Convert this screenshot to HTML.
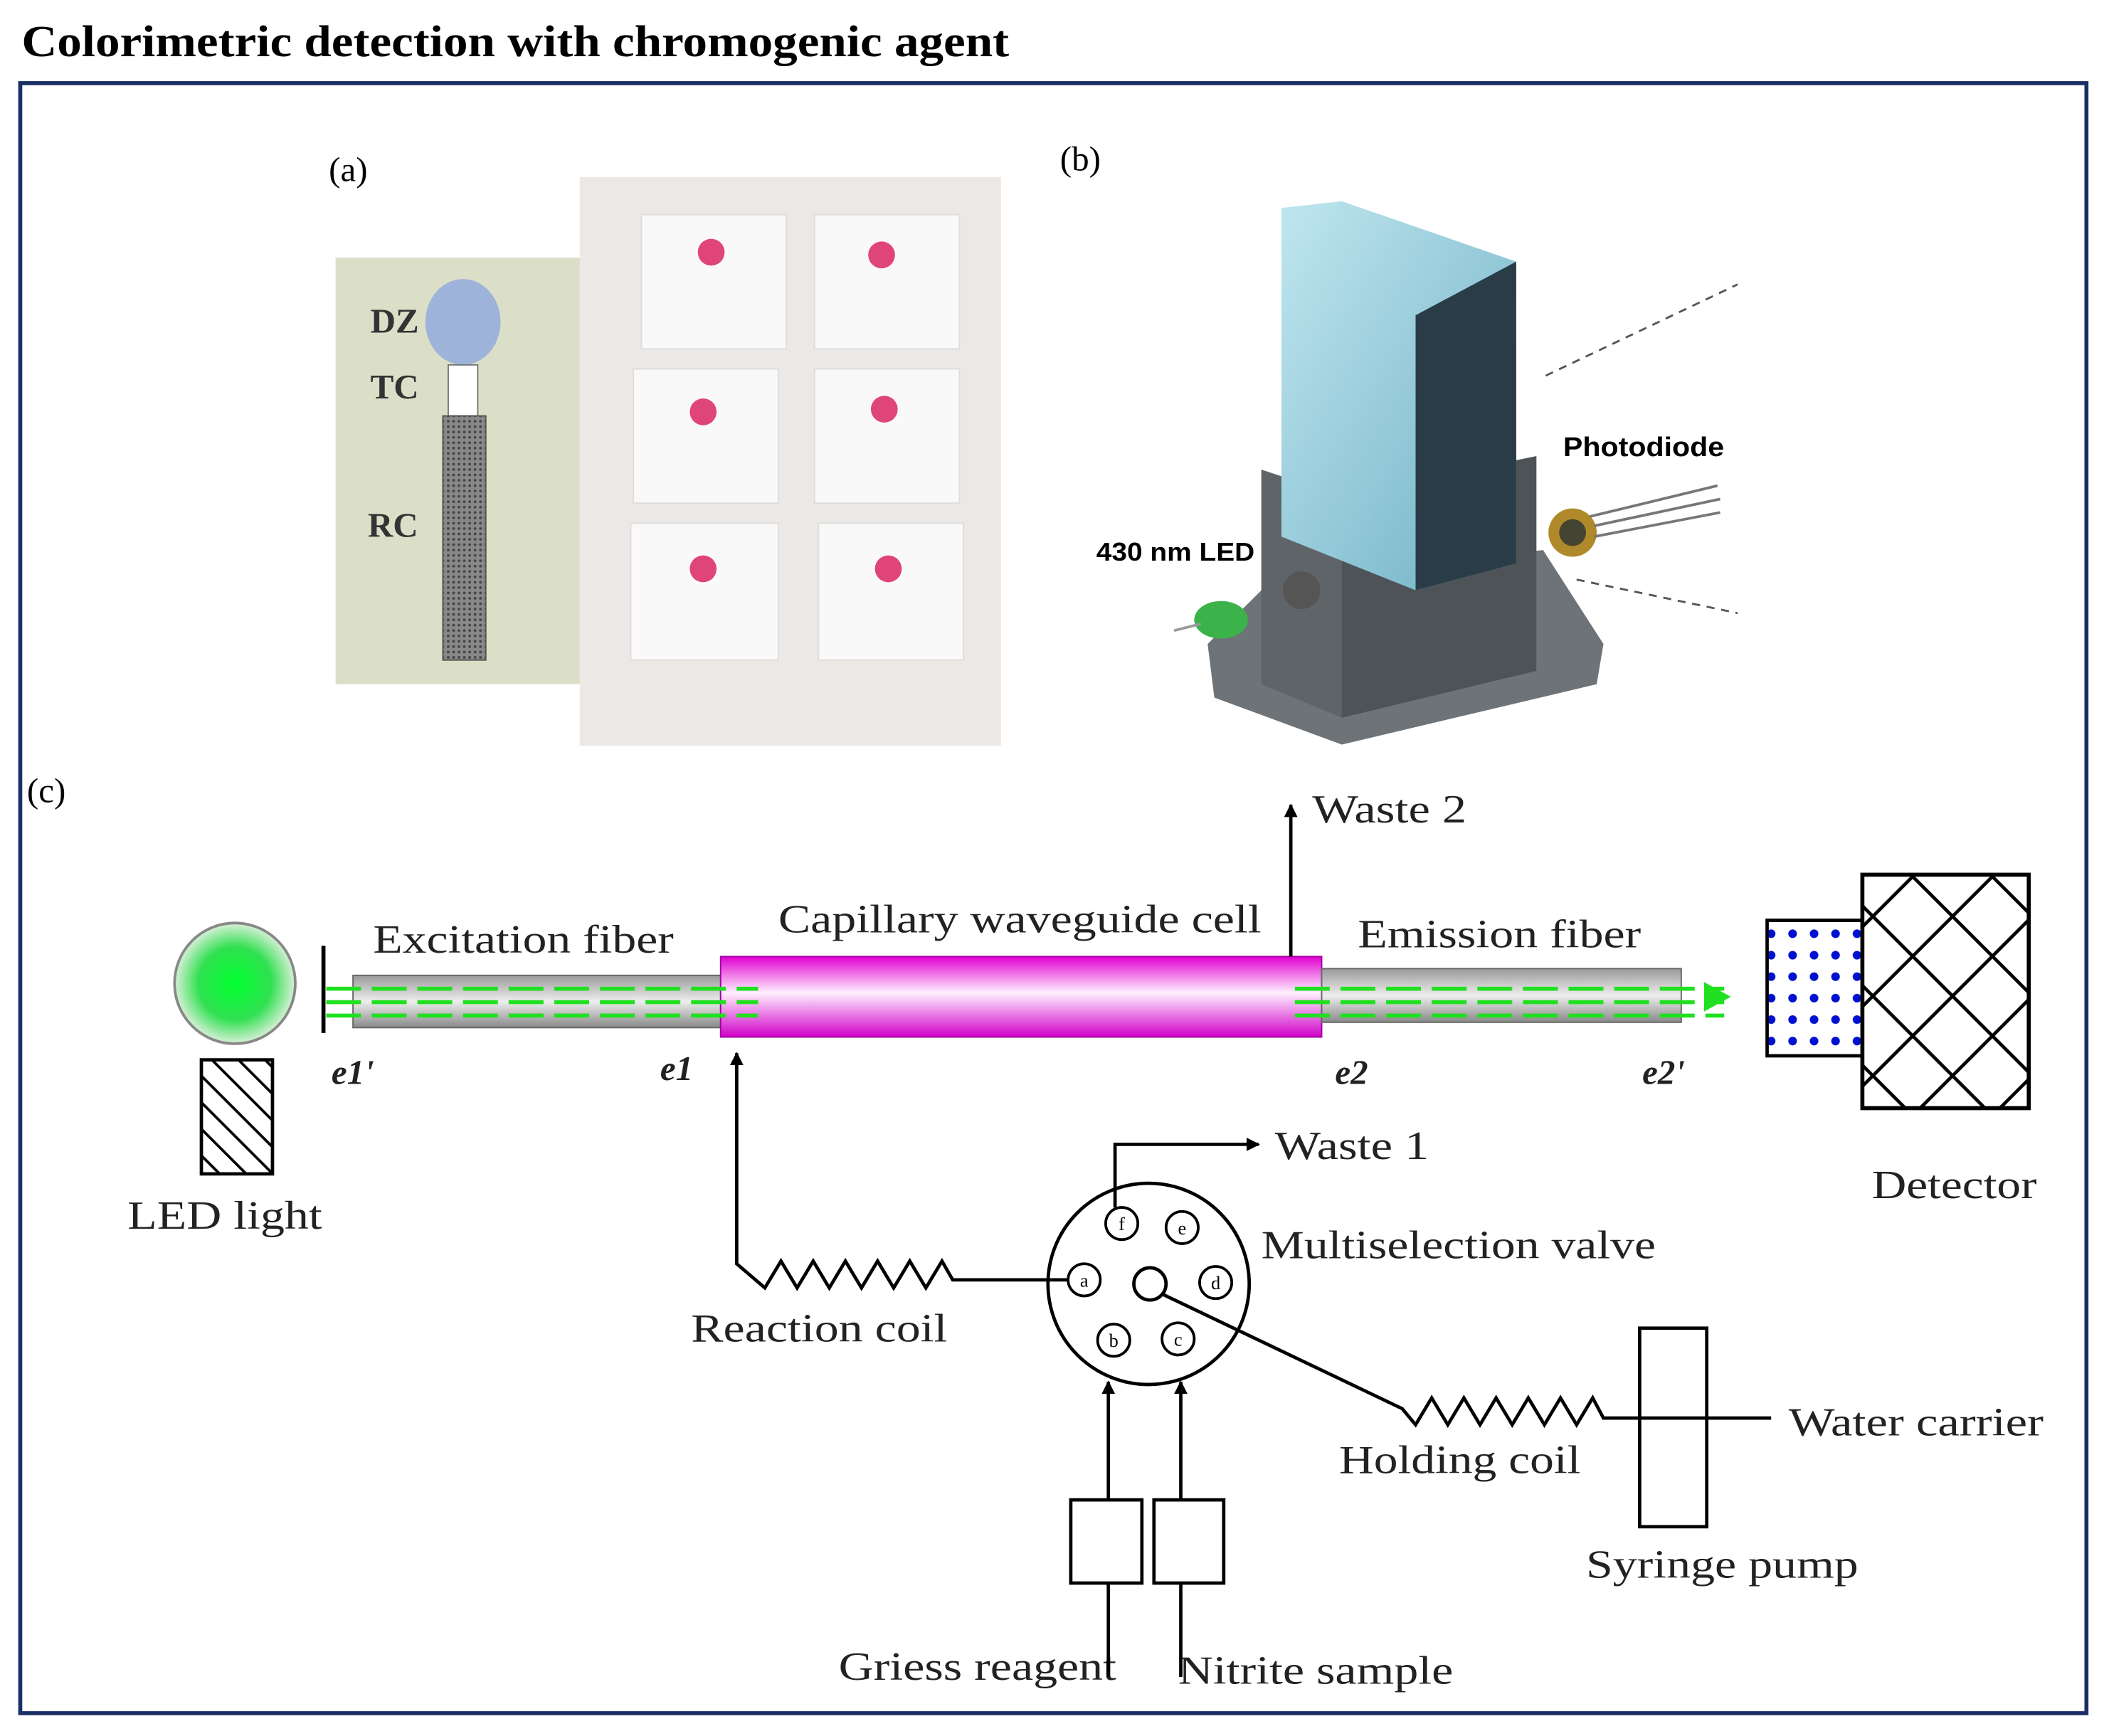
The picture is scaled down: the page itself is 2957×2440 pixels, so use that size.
<!DOCTYPE html>
<html><head><meta charset="utf-8"><style>html,body{margin:0;padding:0;background:#fff}svg{display:block}</style></head>
<body>
<svg width="2957" height="2440" viewBox="0 0 1568 1294" xmlns="http://www.w3.org/2000/svg">
<defs>
<radialGradient id="led" cx="50%" cy="50%" r="50%"><stop offset="0" stop-color="#00ff30"/><stop offset="0.6" stop-color="#30e050"/><stop offset="1" stop-color="#d8f0d8"/></radialGradient>
<linearGradient id="mag" x1="0" y1="0" x2="0" y2="1"><stop offset="0" stop-color="#e000d0"/><stop offset="0.45" stop-color="#fff0ff"/><stop offset="1" stop-color="#d000c8"/></linearGradient>
<linearGradient id="fib" x1="0" y1="0" x2="0" y2="1"><stop offset="0" stop-color="#999"/><stop offset="0.5" stop-color="#eee"/><stop offset="1" stop-color="#888"/></linearGradient>
<linearGradient id="glass" x1="0" y1="0" x2="1" y2="1"><stop offset="0" stop-color="#bfe6ef"/><stop offset="1" stop-color="#6fb0c4"/></linearGradient>
<pattern id="hatch" width="14" height="14" patternUnits="userSpaceOnUse" patternTransform="rotate(-45)"><line x1="0" y1="0" x2="0" y2="14" stroke="#000" stroke-width="4"/></pattern>
<pattern id="cross" width="42" height="42" patternUnits="userSpaceOnUse" patternTransform="rotate(45)"><rect width="42" height="42" fill="none" stroke="#000" stroke-width="2.5"/></pattern>
<pattern id="dots" width="16" height="16" patternUnits="userSpaceOnUse"><circle cx="8" cy="8" r="3.2" fill="#0010d0"/></pattern>
<pattern id="mesh" width="4" height="4" patternUnits="userSpaceOnUse"><rect width="4" height="4" fill="#888"/><circle cx="2" cy="2" r="1" fill="#444"/></pattern>
<marker id="ah" markerWidth="10" markerHeight="10" refX="9" refY="5" orient="auto" markerUnits="userSpaceOnUse"><path d="M0,0 L10,5 L0,10 z" fill="#000"/></marker>
</defs>
<text x="16" y="42" font-family="Liberation Serif" font-weight="bold" font-size="33" textLength="736" lengthAdjust="spacingAndGlyphs">Colorimetric detection with chromogenic agent</text>
<rect x="15" y="62" width="1540" height="1215" fill="none" stroke="#1a2f66" stroke-width="3"/>

<!-- (a) -->
<text x="245" y="135" font-family="Liberation Serif" font-size="26">(a)</text>
<rect x="250" y="192" width="183" height="318" fill="#dcdfc8"/>
<ellipse cx="345" cy="240" rx="28" ry="32" fill="#9db3d9"/>
<rect x="334" y="272" width="22" height="38" fill="#fff" stroke="#777"/>
<rect x="330" y="310" width="32" height="182" fill="url(#mesh)" stroke="#555"/>
<g font-family="Liberation Serif" font-weight="bold" font-size="26" fill="#333"><text x="276" y="248">DZ</text><text x="276" y="297">TC</text><text x="274" y="400">RC</text></g>
<rect x="432" y="132" width="314" height="424" fill="#ebe8e5"/>
<g fill="#faf9fa" stroke="#ddd">
<rect x="478" y="160" width="108" height="100"/><rect x="607" y="160" width="108" height="100"/>
<rect x="472" y="275" width="108" height="100"/><rect x="607" y="275" width="108" height="100"/>
<rect x="470" y="390" width="110" height="102"/><rect x="610" y="390" width="108" height="102"/></g>
<g fill="#e0457a"><circle cx="530" cy="188" r="10"/><circle cx="657" cy="190" r="10"/><circle cx="524" cy="307" r="10"/><circle cx="659" cy="305" r="10"/><circle cx="524" cy="424" r="10"/><circle cx="662" cy="424" r="10"/></g>

<!-- (b) -->
<text x="790" y="127" font-family="Liberation Serif" font-size="26">(b)</text>
<path d="M900,480 L950,430 L1150,410 L1195,480 L1190,510 L1000,555 L905,520 z" fill="#6e7378"/>
<path d="M940,350 L1000,370 L1145,340 L1145,500 L1000,535 L940,510 z" fill="#5f6469"/>
<path d="M1000,370 L1145,340 L1145,500 L1000,535 z" fill="#4e5358"/>
<path d="M955,155 L1000,150 L1130,195 L1130,420 L1055,440 L955,400 z" fill="url(#glass)"/>
<path d="M1055,235 L1130,195 L1130,420 L1055,440 z" fill="#2a3c48"/>
<circle cx="970" cy="440" r="14" fill="#555"/>
<ellipse cx="910" cy="462" rx="20" ry="14" fill="#3bb34a"/>
<line x1="875" y1="470" x2="895" y2="465" stroke="#999" stroke-width="2"/>
<circle cx="1172" cy="397" r="18" fill="#b08a2a"/><circle cx="1172" cy="397" r="10" fill="#443"/>
<g stroke="#777" stroke-width="2"><line x1="1185" y1="385" x2="1280" y2="362"/><line x1="1188" y1="392" x2="1282" y2="372"/><line x1="1188" y1="400" x2="1282" y2="382"/></g>
<g stroke="#555" stroke-dasharray="6,5" stroke-width="1.5"><line x1="1152" y1="280" x2="1295" y2="212"/><line x1="1175" y1="432" x2="1295" y2="457"/></g>
<text x="1165" y="340" font-family="Liberation Sans" font-weight="bold" font-size="20" textLength="120" lengthAdjust="spacingAndGlyphs">Photodiode</text>
<text x="817" y="418" font-family="Liberation Sans" font-weight="bold" font-size="19" textLength="118" lengthAdjust="spacingAndGlyphs">430 nm LED</text>

<!-- (c) -->
<text x="20" y="598" font-family="Liberation Serif" font-size="26">(c)</text>
<circle cx="175" cy="733" r="45" fill="url(#led)" stroke="#888" stroke-width="2"/>
<rect x="150" y="790" width="53" height="85" fill="url(#hatch)" stroke="#000" stroke-width="2.5"/>
<line x1="241" y1="705" x2="241" y2="770" stroke="#000" stroke-width="3"/>
<rect x="263" y="727" width="274" height="39" fill="url(#fib)" stroke="#666"/>
<rect x="537" y="713" width="448" height="60" fill="url(#mag)" stroke="#a000a0"/>
<rect x="985" y="722" width="268" height="40" fill="url(#fib)" stroke="#666"/>
<g stroke="#20e020" stroke-width="3" stroke-dasharray="26,8">
<line x1="243" y1="737" x2="565" y2="737"/><line x1="243" y1="747" x2="565" y2="747"/><line x1="243" y1="757" x2="565" y2="757"/>
<line x1="965" y1="737" x2="1285" y2="737"/><line x1="965" y1="747" x2="1285" y2="747"/><line x1="965" y1="757" x2="1285" y2="757"/></g>
<path d="M1270,732 L1290,743 L1270,754 z" fill="#20e020"/>
<line x1="962" y1="713" x2="962" y2="600" stroke="#000" stroke-width="2.5" marker-end="url(#ah)"/>
<rect x="1317" y="686" width="71" height="101" fill="url(#dots)" stroke="#000" stroke-width="2.5"/>
<rect x="1388" y="652" width="124" height="174" fill="url(#cross)" stroke="#000" stroke-width="3"/>
<g font-family="Liberation Serif" font-size="30" fill="#222" lengthAdjust="spacingAndGlyphs">
<text x="978" y="613" textLength="115" lengthAdjust="spacingAndGlyphs">Waste 2</text>
<text x="278" y="710" textLength="224" lengthAdjust="spacingAndGlyphs">Excitation fiber</text>
<text x="580" y="695" textLength="360" lengthAdjust="spacingAndGlyphs">Capillary waveguide cell</text>
<text x="1012" y="706" textLength="211" lengthAdjust="spacingAndGlyphs">Emission fiber</text>
<text x="95" y="916" textLength="145" lengthAdjust="spacingAndGlyphs">LED light</text>
<text x="1395" y="893" textLength="123" lengthAdjust="spacingAndGlyphs">Detector</text>
<text x="950" y="864" textLength="115" lengthAdjust="spacingAndGlyphs">Waste 1</text>
<text x="940" y="938" textLength="294" lengthAdjust="spacingAndGlyphs">Multiselection valve</text>
<text x="515" y="1000" textLength="191" lengthAdjust="spacingAndGlyphs">Reaction coil</text>
<text x="998" y="1098" textLength="180" lengthAdjust="spacingAndGlyphs">Holding coil</text>
<text x="1333" y="1070" textLength="190" lengthAdjust="spacingAndGlyphs">Water carrier</text>
<text x="1182" y="1176" textLength="203" lengthAdjust="spacingAndGlyphs">Syringe pump</text>
<text x="625" y="1252" textLength="207" lengthAdjust="spacingAndGlyphs">Griess reagent</text>
<text x="878" y="1255" textLength="205" lengthAdjust="spacingAndGlyphs">Nitrite sample</text>
</g>
<g font-family="Liberation Serif" font-style="italic" font-weight="bold" font-size="26" fill="#222">
<text x="247" y="808">e1'</text><text x="492" y="805">e1</text><text x="995" y="808">e2</text><text x="1224" y="808">e2'</text></g>
<!-- valve -->
<circle cx="856" cy="957" r="75" fill="#fff" stroke="#000" stroke-width="2.5"/>
<circle cx="857" cy="957" r="12" fill="#fff" stroke="#000" stroke-width="2.5"/>
<g fill="#fff" stroke="#000" stroke-width="2"><circle cx="808" cy="954" r="12"/><circle cx="836" cy="912" r="12"/><circle cx="881" cy="915" r="12"/><circle cx="906" cy="956" r="12"/><circle cx="878" cy="998" r="12"/><circle cx="830" cy="999" r="12"/></g>
<g font-family="Liberation Serif" font-size="14" text-anchor="middle"><text x="808" y="959">a</text><text x="836" y="917">f</text><text x="881" y="920">e</text><text x="906" y="961">d</text><text x="878" y="1003">c</text><text x="830" y="1004">b</text></g>
<g fill="none" stroke="#000" stroke-width="2.5">
<path d="M831,900 L831,853 L938,853" marker-end="url(#ah)"/>
<path d="M796,954 L710,954 L702,940 L690,960 L678,940 L666,960 L654,940 L642,960 L630,940 L618,960 L606,940 L594,960 L582,940 L570,960 L549,942 L549,785" marker-end="url(#ah)"/>
<path d="M867,965 L1045,1050 L1055,1062 L1067,1042 L1079,1062 L1091,1042 L1103,1062 L1115,1042 L1127,1062 L1139,1042 L1151,1062 L1163,1042 L1175,1062 L1187,1042 L1195,1057 L1320,1057"/>
<rect x="1222" y="990" width="50" height="148"/>
<rect x="798" y="1118" width="53" height="62"/><rect x="860" y="1118" width="52" height="62"/>
<path d="M826,1118 L826,1030" marker-end="url(#ah)"/><path d="M880,1118 L880,1030" marker-end="url(#ah)"/>
<line x1="826" y1="1180" x2="826" y2="1250"/><line x1="880" y1="1180" x2="880" y2="1250"/>
</g>
</svg>
</body></html>
